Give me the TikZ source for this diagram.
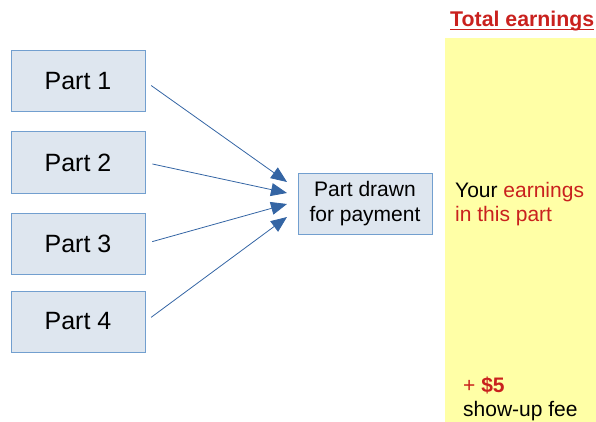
\documentclass[tikz,border=0pt]{standalone}
\usepackage{fontspec}
\setmainfont{Liberation Sans}
\usetikzlibrary{arrows.meta}
\definecolor{boxfill}{HTML}{DEE6EF}
\definecolor{boxline}{HTML}{729FCF}
\definecolor{arrowblue}{HTML}{3465A4}
\definecolor{payyellow}{HTML}{FFFFA6}
\definecolor{payred}{HTML}{C9211E}

\begin{document}
\begin{tikzpicture}[x=1pt,y=-1pt,every node/.style={inner sep=0pt},
 part/.style={rectangle,draw=boxline,line width=1pt,fill=boxfill,minimum width=134pt,minimum height=61pt,font=\fontsize{25}{30}\selectfont},
 small/.style={font=\fontsize{21}{24}\selectfont,align=left}]
\useasboundingbox (0,0) rectangle (596,422);

\fill[payyellow] (445,38) rectangle (596,422);

\node[part] (p1) at (78,81.5) {Part 1};
\node[part] (p2) at (78,162.5) {Part 2};
\node[part] (p3) at (78,243.5) {Part 3};
\node[part] (p4) at (78,321.5) {Part 4};
\node[part,font=\fontsize{21}{25}\selectfont,align=center] (pd) at (365,203.5) {Part drawn\\for payment};

\coordinate (t1) at (287,182);
\coordinate (t2) at (287,193);
\coordinate (t3) at (287,204);
\coordinate (t4) at (287,217);

\foreach \from/\to in {p1/t1,p2/t2,p3/t3,p4/t4}
\draw[arrowblue,line width=0.8pt,shorten <=7pt,-{Triangle[length=16pt,width=13pt]}] (\from.east) -- (\to);

\node[small,anchor=base west,font=\fontsize{21.3}{24}\selectfont\bfseries,text=payred] (te) at (450,27) {Total earnings};
\draw[payred,line width=1.5pt] ([yshift=-2.5pt]te.base west) -- ([yshift=-2.5pt]te.base east);

\node[small,anchor=north west] (ye) at (455,182) {Your \textcolor{payred}{earnings}\\\textcolor{payred}{in this part}};
\node[small,anchor=north west] (sf) at (463,377) {\textcolor{payred}{+ \textbf{\$5}}\\show-up fee};
\end{tikzpicture}
\end{document}
